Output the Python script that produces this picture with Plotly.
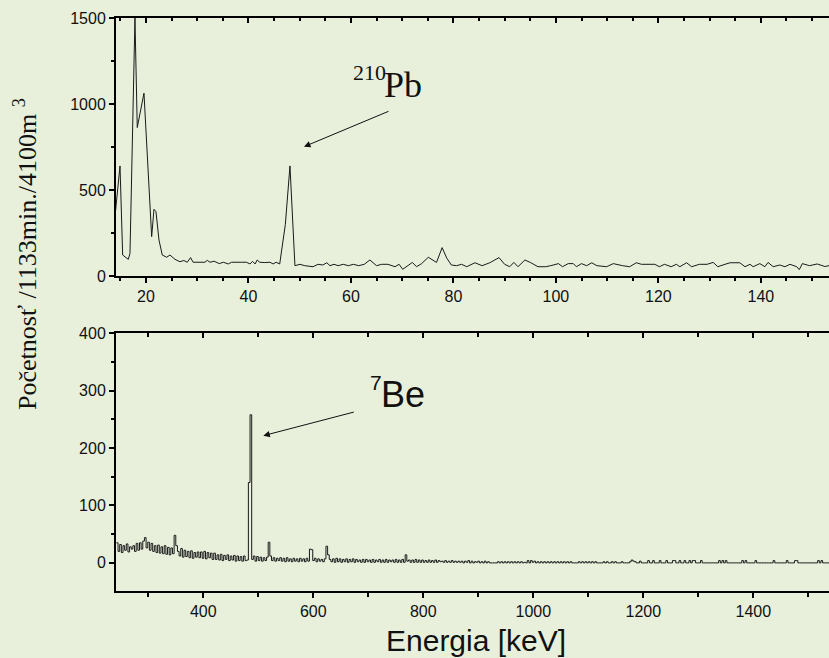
import plotly.graph_objects as go

# ---------------- data ----------------
top_energy_kev = [13.9, 14.93, 15.45, 16.55, 16.88, 17.85, 18.30, 19.61, 21.11, 21.56,
                  21.95, 22.54, 23.18, 24.04, 24.68, 25.66, 26.63, 27.4, 28.06, 28.7,
                  29.2, 30.3, 31.5, 31.97, 32.5, 33.3, 34.3, 35.1, 36.06, 36.7,
                  37.8, 38.6, 39.6, 40.3, 40.8, 41.3, 41.7, 42.2, 43.2, 44.2,
                  44.8, 45.4, 46.1, 47.2, 48.1, 49.07, 50.05, 51.0, 52.6, 53.6,
                  54.5, 55.3, 55.9, 56.7, 57.5, 58.5, 59.5, 60.5, 61.5, 62.6,
                  63.7, 65.0, 66.0, 67.2, 68.6, 69.4, 70.1, 70.9, 72.0, 72.8,
                  73.8, 75.1, 76.7, 77.8, 78.7, 79.6, 80.6, 81.6, 82.6, 84.2,
                  85.6, 87.1, 88.9, 90.0, 91.0, 91.8, 92.6, 93.95, 95.0, 96.5,
                  98.0, 99.0, 100.5, 101.3, 102.4, 103.4, 104.0, 105.0, 106.0, 107.0,
                  108.0, 109.9, 111.2, 113.0, 114.4, 115.7, 116.7, 119.3, 120.2, 121.2,
                  122.5, 123.5, 124.2, 125.5, 126.5, 128.0, 129.5, 130.7, 131.6, 133.0,
                  134.0, 135.9, 136.9, 137.9, 138.5, 139.8, 140.8, 141.4, 142.4, 143.7,
                  144.7, 145.7, 147.0, 147.5, 148.1, 149.5, 151.0, 152.5, 154.0]
top_counts = [330, 640, 122, 97, 132, 1500, 863, 1063, 229, 388,
              374, 209, 122, 109, 122, 97, 83, 90, 80, 107,
              80, 78, 80, 91, 80, 86, 72, 80, 70, 80,
              78, 80, 80, 70, 85, 70, 93, 80, 78, 80,
              70, 80, 70, 300, 640, 60, 68, 60, 54, 68,
              64, 77, 60, 68, 60, 68, 60, 68, 60, 68,
              93, 60, 68, 68, 54, 68, 39, 54, 79, 54,
              72, 109, 79, 165, 104, 64, 60, 68, 54, 77,
              60, 77, 107, 68, 54, 79, 54, 93, 79, 54,
              54, 60, 72, 54, 72, 72, 54, 72, 60, 77,
              60, 54, 72, 60, 54, 77, 68, 68, 54, 68,
              54, 68, 54, 77, 54, 68, 68, 79, 54, 68,
              77, 77, 54, 68, 54, 72, 54, 79, 54, 64,
              54, 68, 54, 37, 72, 60, 70, 55, 65]

bottom_start_kev = 242
bottom_step_kev = 3
bottom_counts = [
    35, 20, 32, 18, 30, 22, 33, 19, 28, 24,
    30, 20, 34, 22, 35, 24, 38, 44, 26, 36,
    22, 34, 20, 30, 18, 31, 17, 28, 16, 30,
    15, 27, 14, 26, 16, 48, 30, 20, 12, 25,
    10, 22, 11, 20, 9, 21, 8, 18, 10, 19,
    9, 19, 8, 20, 7, 18, 9, 17, 6, 17,
    6, 14, 5, 15, 4, 13, 6, 14, 4, 12,
    5, 13, 3, 12, 4, 11, 3, 12, 4, 5,
    140, 258, 6, 12, 3, 11, 4, 10, 3, 9,
    4, 10, 36, 12, 4, 9, 3, 8, 4, 9,
    3, 8, 2, 9, 3, 7, 2, 8, 3, 7,
    2, 8, 3, 7, 2, 8, 3, 24, 23, 4,
    8, 2, 7, 3, 6, 2, 7, 29, 14, 6,
    2, 7, 1, 8, 2, 7, 1, 6, 2, 7,
    1, 6, 2, 7, 1, 6, 2, 5, 1, 6,
    1, 6, 2, 5, 1, 6, 1, 5, 2, 6,
    1, 5, 1, 6, 1, 5, 2, 5, 1, 6,
    1, 5, 1, 6, 1, 14, 3, 5, 1, 5,
    1, 6, 1, 5, 1, 5, 1, 4, 1, 5,
    1, 4, 1, 5, 1, 4, 2, 3, 1, 4,
    1, 3, 1, 4, 1, 3, 1, 3, 1, 3,
    0, 3, 1, 4, 0, 3, 0, 2, 1, 3,
    0, 2, 0, 3, 0, 2, 0, 0, 0, 0,
    0, 2, 0, 2, 0, 2, 0, 2, 0, 2,
    0, 2, 0, 2, 0, 2, 0, 1, 0, 4,
    0, 4, 1, 3, 0, 2, 0, 2, 0, 2,
    0, 2, 0, 2, 0, 2, 0, 2, 0, 2,
    0, 2, 0, 2, 0, 2, 0, 0, 0, 0,
    2, 0, 2, 0, 2, 0, 2, 0, 2, 0,
    2, 0, 0, 0, 0, 2, 0, 2, 0, 0,
    2, 0, 2, 0, 0, 0, 2, 0, 0, 0,
    0, 2, 5, 3, 2, 0, 0, 3, 0, 0,
    0, 0, 4, 0, 0, 4, 0, 0, 0, 4,
    0, 0, 0, 4, 0, 0, 0, 4, 4, 0,
    0, 4, 0, 0, 4, 0, 0, 4, 0, 4,
    4, 0, 0, 0, 4, 0, 0, 0, 0, 0,
    0, 0, 0, 0, 0, 4, 0, 4, 0, 4,
    0, 0, 0, 0, 0, 0, 0, 0, 0, 4,
    0, 4, 0, 0, 0, 0, 0, 4, 0, 0,
    0, 0, 0, 0, 0, 0, 0, 0, 4, 0,
    0, 0, 0, 0, 0, 0, 4, 0, 0, 0,
    0, 4, 4, 0, 0, 0, 0, 0, 0, 0,
    0, 0, 0, 0, 0, 4, 0, 4, 0, 0,
    0, 0, 0]
bottom_energy_kev = [bottom_start_kev + bottom_step_kev * i for i in range(len(bottom_counts))]

y_title = "Početnosť /1133min./4100m <sup>3</sup>"
x_title = "Energia [keV]"

# ---------------- layout helpers ----------------
W, H = 829, 658
L, R, T, B = 116, 0, 18, 67
PW, PH = W - L - R, H - T - B


def px(xp):
    return (xp - L) / PW


def py(yp):
    return (H - B - yp) / PH


BG = "#e8f0dc"
INK = "#111111"
SANS = "Liberation Sans, Arial, sans-serif"
SERIF = "Liberation Serif, Times New Roman, serif"

fig = go.Figure()
fig.add_trace(go.Scatter(x=top_energy_kev, y=top_counts, mode="lines",
                         line=dict(color="#1a1a1a", width=1),
                         xaxis="x", yaxis="y", showlegend=False, hoverinfo="skip"))
fig.add_trace(go.Scatter(x=bottom_energy_kev, y=bottom_counts, mode="lines",
                         line=dict(color="#1a1a1a", width=1, shape="hv"),
                         xaxis="x2", yaxis="y2", showlegend=False, hoverinfo="skip"))
# empty traces so that the top-side frame axes are drawn
fig.add_trace(go.Scatter(x=[], y=[], xaxis="x3", yaxis="y", showlegend=False, hoverinfo="skip"))
fig.add_trace(go.Scatter(x=[], y=[], xaxis="x4", yaxis="y2", showlegend=False, hoverinfo="skip"))

common = dict(showline=True, linecolor="black", linewidth=2, showgrid=False,
              zeroline=False, ticklen=5, tickwidth=2, tickcolor="black",
              tickfont=dict(family=SANS, size=16, color=INK), automargin=False)

top_range = [14.15, 153.3]
bot_range = [241.3, 1537.6]
top_dom = [py(276), 1.0]
bot_dom = [0.0, py(333.3)]

fig.update_layout(
    width=W, height=H,
    margin=dict(l=L, r=R, t=T, b=B, pad=0),
    paper_bgcolor=BG, plot_bgcolor=BG,
    showlegend=False,
    xaxis=dict(**common, domain=[0, 1], anchor="y", range=top_range,
               ticks="outside", tick0=0, dtick=20,
               minor=dict(dtick=5, tick0=0, ticks="outside", ticklen=3,
                          tickwidth=1.5, tickcolor="black")),
    xaxis3=dict(**common, overlaying="x", anchor="y", side="top", range=top_range,
                ticks="inside", tick0=0, dtick=20, showticklabels=False,
                minor=dict(dtick=5, tick0=0, ticks="inside", ticklen=3,
                           tickwidth=1.5, tickcolor="black")),
    yaxis=dict(**common, domain=top_dom, anchor="x", range=[0, 1500],
               ticks="outside", tick0=0, dtick=500,
               minor=dict(dtick=250, tick0=0, ticks="outside", ticklen=3,
                          tickwidth=1.5, tickcolor="black")),
    xaxis2=dict(**common, domain=[0, 1], anchor="y2", range=bot_range,
                ticks="outside", tick0=0, dtick=200,
                minor=dict(dtick=100, tick0=0, ticks="outside", ticklen=4,
                           tickwidth=1.5, tickcolor="black")),
    xaxis4=dict(**common, overlaying="x2", anchor="y2", side="top", range=bot_range,
                ticks="inside", tick0=0, dtick=200, showticklabels=False,
                minor=dict(dtick=100, tick0=0, ticks="inside", ticklen=4,
                           tickwidth=1.5, tickcolor="black")),
    yaxis2=dict(**common, domain=bot_dom, anchor="x2", range=[-49, 400],
                ticks="outside", tick0=0, dtick=100,
                minor=dict(dtick=50, tick0=0, ticks="outside", ticklen=3,
                           tickwidth=1.5, tickcolor="black")),
)

ann = []
# axis titles
ann.append(dict(xref="paper", yref="paper", x=px(26), y=py(254), text=y_title,
                textangle=-90, showarrow=False, xanchor="center", yanchor="middle",
                font=dict(family=SERIF, size=26, color=INK)))
ann.append(dict(xref="paper", yref="paper", x=px(476), y=py(640), text=x_title,
                showarrow=False, xanchor="center", yanchor="middle",
                font=dict(family=SANS, size=30, color=INK)))
# 210Pb label
ann.append(dict(xref="paper", yref="paper", x=px(351), y=py(72.5), text="210",
                showarrow=False, xanchor="left", yanchor="middle",
                font=dict(family=SERIF, size=22, color=INK)))
ann.append(dict(xref="paper", yref="paper", x=px(382), y=py(85), text="Pb",
                showarrow=False, xanchor="left", yanchor="middle",
                font=dict(family=SERIF, size=36, color=INK)))
# 7Be label
ann.append(dict(xref="paper", yref="paper", x=px(368), y=py(382.5), text="7",
                showarrow=False, xanchor="left", yanchor="middle",
                font=dict(family=SANS, size=21, color=INK)))
ann.append(dict(xref="paper", yref="paper", x=px(379), y=py(394.5), text="Be",
                showarrow=False, xanchor="left", yanchor="middle",
                font=dict(family=SANS, size=36, color=INK)))
# arrows
ann.append(dict(xref="paper", yref="paper", x=px(304), y=py(146.7), text="",
                showarrow=True, ax=86, ay=-36, arrowhead=2, arrowsize=1.3,
                arrowwidth=1, arrowcolor=INK, standoff=0))
ann.append(dict(xref="paper", yref="paper", x=px(263.3), y=py(435.7), text="",
                showarrow=True, ax=92, ay=-24, arrowhead=2, arrowsize=1.3,
                arrowwidth=1, arrowcolor=INK, standoff=0))
fig.update_layout(annotations=ann)

# remove the browser's default 8px body margin so the figure fills the window
fig.write_html("out.html",
               config={"displayModeBar": False},
               post_script="document.body.style.margin='0px';document.body.style.background='%s';" % BG)
